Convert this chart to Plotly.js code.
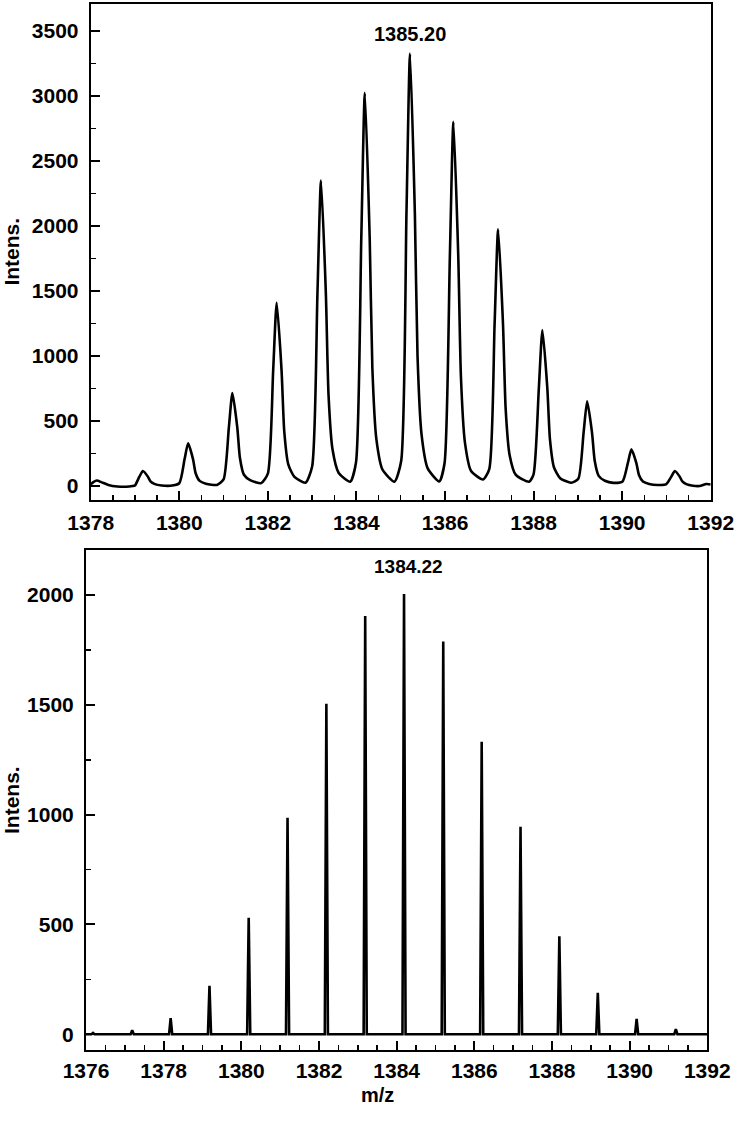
<!DOCTYPE html>
<html>
<head>
<meta charset="utf-8">
<script src="https://cdn.plot.ly/plotly-3.0.1.min.js"></script>
<style>html,body{margin:0;padding:0;background:#fff;}#chart{width:739px;height:1122px;}</style>
</head>
<body>
<div id="chart"></div>
<script>
// Top spectrum (profile)
const topMz = [
  1378.00, 1378.06, 1378.14, 1378.25, 1378.40, 1378.60, 1378.80, 1378.95,
  1379.00, 1379.10, 1379.18, 1379.29, 1379.35, 1379.45, 1379.60, 1379.80,
  1380.00, 1380.12, 1380.20, 1380.31, 1380.37, 1380.46, 1380.60, 1380.85,
  1381.00, 1381.12, 1381.20, 1381.31, 1381.37, 1381.46, 1381.60, 1381.85,
  1382.00, 1382.12, 1382.20, 1382.31, 1382.37, 1382.46, 1382.60, 1382.85,
  1383.00, 1383.12, 1383.20, 1383.31, 1383.37, 1383.46, 1383.60, 1383.86,
  1383.99, 1384.11, 1384.19, 1384.30, 1384.36, 1384.45, 1384.59, 1384.86,
  1385.01, 1385.13, 1385.21, 1385.32, 1385.38, 1385.47, 1385.61, 1385.87,
  1385.99, 1386.11, 1386.19, 1386.30, 1386.36, 1386.45, 1386.59, 1386.86,
  1387.00, 1387.12, 1387.20, 1387.31, 1387.37, 1387.46, 1387.60, 1387.90,
  1388.00, 1388.12, 1388.20, 1388.31, 1388.37, 1388.46, 1388.60, 1388.85,
  1389.01, 1389.13, 1389.21, 1389.32, 1389.38, 1389.47, 1389.61, 1389.80,
  1390.01, 1390.13, 1390.21, 1390.32, 1390.38, 1390.47, 1390.61, 1390.80,
  1390.99, 1391.11, 1391.19, 1391.30, 1391.36, 1391.45, 1391.60, 1391.75, 1391.90, 1392.00
];
const topIntens = [
  12, 30, 42, 28, 8, -4, -6, 0,
  4, 72, 115, 72, 35, 14, 4, 2,
  21, 207, 328, 207, 98, 39, 18, 8,
  50, 450, 715, 450, 215, 86, 45, 22,
  95, 888, 1410, 888, 423, 169, 70, 25,
  150, 1480, 2350, 1480, 705, 282, 100, 33,
  180, 1906, 3025, 1906, 908, 363, 125, 33,
  190, 2096, 3327, 2096, 998, 399, 135, 35,
  175, 1765, 2802, 1765, 840, 336, 115, 50,
  130, 1244, 1975, 1244, 593, 237, 85, 33,
  90, 756, 1200, 756, 360, 144, 60, 25,
  55, 411, 652, 411, 196, 78, 40, 24,
  35, 178, 282, 178, 85, 34, 16, 8,
  12, 72, 115, 72, 35, 14, 2, 0, 15, 12
];

// Bottom spectrum (centroid sticks): peak positions and heights
const botPeakMz = [1376.18, 1377.19, 1378.18, 1379.18, 1380.19, 1381.19, 1382.19, 1383.19,
                   1384.19, 1385.20, 1386.19, 1387.19, 1388.19, 1389.18, 1390.18, 1391.19];
const botPeakIntens = [6, 18, 73, 221, 530, 986, 1505, 1905,
                       2005, 1788, 1332, 945, 446, 189, 70, 23];

const topLabel = "1385.20";
const botLabel = "1384.22";
const yTitle = "Intens.";
const xTitle = "m/z";

// build stick trace from peak list (base / apex / base per peak)
const botX = [1376.0], botY = [0];
const halfBase = 0.04;
for (let i = 0; i < botPeakMz.length; i++) {
  botX.push(botPeakMz[i] - halfBase, botPeakMz[i], botPeakMz[i] + halfBase);
  botY.push(0, botPeakIntens[i], 0);
}
botX.push(1392.0); botY.push(0);

const W = 739, H = 1122;
const fontFam = "Liberation Sans, Arial, Helvetica, sans-serif";
const tickFont = {family: fontFam, size: 21, color: '#000', weight: 'bold'};
const titleFont = {family: fontFam, size: 21, color: '#000', weight: 'bold'};

function xAxis(domain, range, anchor, standoff) {
  return {
    domain: domain, range: range, anchor: anchor,
    showgrid: false, zeroline: false,
    showline: true, linecolor: '#000', linewidth: 2, mirror: true,
    ticks: 'inside', ticklen: 9, tickwidth: 2, tickcolor: '#000',
    dtick: 2, tick0: 1376,
    minor: {dtick: 0.5, ticks: 'inside', ticklen: 5, tickwidth: 1.5, tickcolor: '#000', showgrid: false},
    tickfont: tickFont, ticklabelstandoff: standoff
  };
}
function yAxis(domain, range, anchor) {
  return {
    domain: domain, range: range, anchor: anchor,
    showgrid: false, zeroline: false,
    showline: true, linecolor: '#000', linewidth: 2, mirror: true,
    ticks: 'inside', ticklen: 9, tickwidth: 2, tickcolor: '#000',
    dtick: 500, tick0: 0,
    minor: {dtick: 250, ticks: 'inside', ticklen: 5, tickwidth: 1.5, tickcolor: '#000', showgrid: false},
    tickfont: tickFont, ticklabelstandoff: 6,
    title: {text: yTitle, font: titleFont, standoff: 10}
  };
}

const data = [
  {x: topMz, y: topIntens, type: 'scatter', mode: 'lines', xaxis: 'x', yaxis: 'y',
   line: {color: '#000', width: 2.6, shape: 'spline', smoothing: 0.6}, hoverinfo: 'skip'},
  {x: botX, y: botY, type: 'scatter', mode: 'lines', xaxis: 'x2', yaxis: 'y2',
   line: {color: '#000', width: 2.6}, hoverinfo: 'skip'}
];

const layout = {
  width: W, height: H,
  margin: {l: 0, r: 0, t: 0, b: 0},
  paper_bgcolor: '#fff', plot_bgcolor: '#fff',
  showlegend: false,
  xaxis: xAxis([90.7 / W, 710.7 / W], [1378, 1392], 'y', 3),
  yaxis: yAxis([1 - 499.5 / H, 1 - 4 / H], [-104, 3708], 'x'),
  xaxis2: xAxis([86 / W, 707.3 / W], [1376, 1392], 'y2', 1),
  yaxis2: yAxis([1 - 1050 / H, 1 - 550.3 / H], [-72, 2204], 'x2'),
  annotations: [
    {text: topLabel, x: 1385.2, y: 3476, xref: 'x', yref: 'y', showarrow: false,
     xanchor: 'center', yanchor: 'middle', font: {family: fontFam, size: 20, color: '#000', weight: 'bold'}},
    {text: botLabel, x: 1384.3, y: 2128, xref: 'x2', yref: 'y2', showarrow: false,
     xanchor: 'center', yanchor: 'middle', font: {family: fontFam, size: 19, color: '#000', weight: 'bold'}},
    {text: xTitle, x: 377 / W, y: 1 - 1095 / H, xref: 'paper', yref: 'paper', showarrow: false,
     xanchor: 'center', yanchor: 'middle', font: {family: fontFam, size: 20, color: '#000', weight: 'bold'}}
  ]
};

Plotly.newPlot('chart', data, layout, {staticPlot: true, displayModeBar: false});
</script>
</body>
</html>
